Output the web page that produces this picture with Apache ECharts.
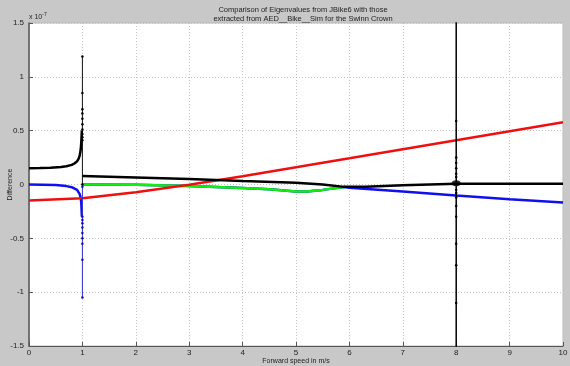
<!DOCTYPE html>
<html><head><meta charset="utf-8">
<script src="https://cdn.jsdelivr.net/npm/echarts@6/dist/echarts.min.js"></script>
<style>html,body{margin:0;padding:0;background:#c8c8c8}#c{width:570px;height:366px}</style>
</head><body><div id="c"></div>
<script>
// Data (units of 1e-7)
var xTicks = [0,1,2,3,4,5,6,7,8,9,10];
var yTicks = [-1.5,-1,-0.5,0,0.5,1,1.5];
var redX = [0,1,2,3,4,5,6,7,8,9,10];
var redY = [-0.148,-0.128,-0.073,-0.003,0.077,0.16,0.243,0.327,0.41,0.494,0.578];
var blackLeftX = [0,0.2,0.4,0.6,0.7,0.8,0.85,0.9,0.93,0.95,0.97,0.98,0.99];
var blackLeftY = [0.152,0.153,0.156,0.163,0.17,0.182,0.195,0.215,0.24,0.27,0.33,0.4,0.5];
var blackRightX = [1,2,3,4,5,5.5,5.9,6.3,7,8,9,10];
var blackRightY = [0.08,0.066,0.05,0.033,0.017,0.0,-0.022,-0.02,-0.008,0.007,0.008,0.008];
var blueLeftX = [0,0.5,0.7,0.8,0.9,0.95,0.97,0.98,0.99];
var blueLeftY = [0,-0.005,-0.015,-0.025,-0.05,-0.09,-0.13,-0.18,-0.3];
var blueRightX = [1,2,3,4,4.5,5,5.2,5.5,5.9,6,7,8,9,10];
var blueRightY = [0,-0.003,-0.013,-0.032,-0.045,-0.065,-0.066,-0.05,-0.024,-0.03,-0.066,-0.103,-0.137,-0.168];
var greenX = [1,2,3,4,4.5,5,5.2,5.5,5.9];
var greenY = [0,-0.003,-0.013,-0.032,-0.045,-0.065,-0.066,-0.05,-0.024];
var spike1BlackY = [1.19,0.85,0.7,0.66,0.61,0.56,0.51,0.47,0.44,0.41,0.0];
var spike1BlueY = [-0.02,-0.3,-0.33,-0.36,-0.4,-0.45,-0.5,-0.55,-0.7,-1.05];
var spike8Y = [2,0.59,0.25,0.2,0.15,0.1,0.07,-0.05,-0.08,-0.12,-0.2,-0.3,-0.55,-0.75,-1.1,-2];
var spike8X = 8, spike1X = 1;
var blobPt = [8, 0.012];

function pts(xs, ys){ return xs.map(function(x,i){return [x, ys[i]];}); }
function vpts(x, ys){ return ys.map(function(y){return [x, y];}); }

var chart = echarts.init(document.getElementById('c'), null, {renderer:'canvas'});
var lineBase = {type:'line', showSymbol:false, symbol:'none', animation:false, smooth:false};
chart.setOption({
  backgroundColor:'#c8c8c8',
  animation:false,
  title:{
    text:'Comparison of Eigenvalues from JBike6 with those\nextracted from AED__Bike__Sim for the Swinn Crown',
    left:298, textAlign:'center', top:0,
    textStyle:{fontSize:7.5, fontWeight:'normal', color:'#222', fontFamily:'Arial, Liberation Sans', lineHeight:9}
  },
  graphic:[
    {type:'text', left:29, top:12, style:{text:'x 10{s|-7}', rich:{s:{fontSize:5, verticalAlign:'top', padding:[0,0,5,0]}}, fontSize:7, fill:'#222', fontFamily:'Arial, Liberation Sans'}},
  ],
  grid:{left:29, right:7, top:23, bottom:20, containLabel:false, outerBoundsMode:'none', show:true, backgroundColor:'#ffffff', borderColor:'#bbbbbb', borderWidth:1},
  xAxis:{
    type:'value', min:0, max:10, interval:1,
    name:'Forward speed in m/s', nameLocation:'middle', nameGap:12, nameMoveOverlap:false,
    nameTextStyle:{fontSize:7, color:'#222', fontFamily:'Arial, Liberation Sans'},
    axisLine:{show:true, onZero:false, lineStyle:{color:'#555', width:1}},
    axisTick:{show:true, inside:true, length:4, lineStyle:{color:'#555'}},
    axisLabel:{fontSize:8, color:'#222', margin:3, fontFamily:'Arial, Liberation Sans'},
    splitLine:{show:true, lineStyle:{color:'#c4c4c4', type:[1,2], width:1}}
  },
  yAxis:{
    type:'value', min:-1.5, max:1.5, interval:0.5,
    name:'Difference', nameLocation:'middle', nameGap:15, nameRotate:90, nameMoveOverlap:false,
    nameTextStyle:{fontSize:7, color:'#222', fontFamily:'Arial, Liberation Sans'},
    axisLine:{show:true, onZero:false, lineStyle:{color:'#555', width:1.5}},
    axisTick:{show:true, inside:true, length:4, lineStyle:{color:'#555'}},
    axisLabel:{fontSize:8, color:'#222', margin:5, fontFamily:'Arial, Liberation Sans',
      formatter:function(v){return String(v);} },
    splitLine:{show:true, lineStyle:{color:'#c4c4c4', type:[1,2], width:1}}
  },
  series:[
    Object.assign({}, lineBase, {data:pts(blueRightX, blueRightY), lineStyle:{color:'#1010ee', width:2.5}}),
    Object.assign({}, lineBase, {data:pts(blueLeftX, blueLeftY), lineStyle:{color:'#1010ee', width:2.5}}),
    Object.assign({}, lineBase, {data:pts(greenX, greenY), lineStyle:{color:'#10ee10', width:2.5}}),
    Object.assign({}, lineBase, {data:pts(redX, redY), lineStyle:{color:'#ee1010', width:2.5}}),
    Object.assign({}, lineBase, {data:vpts(spike1X, spike1BlueY), showSymbol:true, showAllSymbol:true, symbol:'circle', symbolSize:2.5, itemStyle:{color:'#1010bb'}, lineStyle:{color:'#3030cc', width:1}}),
    Object.assign({}, lineBase, {data:vpts(spike1X, spike1BlackY), showSymbol:true, showAllSymbol:true, symbol:'circle', symbolSize:2.5, itemStyle:{color:'#000'}, lineStyle:{color:'#111', width:1}}),
    Object.assign({}, lineBase, {data:pts(blackLeftX, blackLeftY), lineStyle:{color:'#000', width:2.5}}),
    Object.assign({}, lineBase, {data:pts(blackRightX, blackRightY), lineStyle:{color:'#000', width:2.5}}),
    Object.assign({}, lineBase, {data:vpts(spike8X, spike8Y), showSymbol:true, showAllSymbol:true, symbol:'circle', symbolSize:2.5, itemStyle:{color:'#000'}, lineStyle:{color:'#000', width:1.5}}),
    {type:'scatter', data:[blobPt], symbol:'circle', symbolSize:[9,6], itemStyle:{color:'#000'}, animation:false, silent:true}
  ]
});
</script></body></html>
